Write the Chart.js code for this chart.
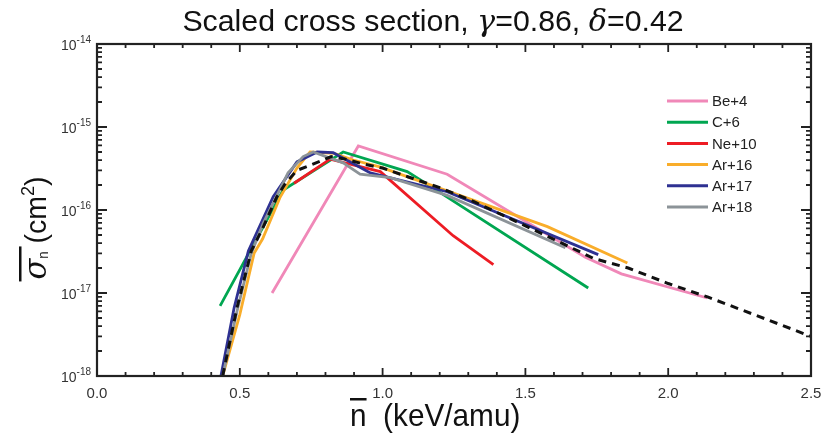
<!DOCTYPE html>
<html>
<head>
<meta charset="utf-8">
<script src="https://cdn.jsdelivr.net/npm/chart.js@4.4.0/dist/chart.umd.min.js"></script>
<style>
    html, body { margin: 0; padding: 0; background: #fff; }
    #wrap { width: 828px; height: 434px; }
</style>
</head>
<body>
<div id="wrap"><canvas id="chart" width="828" height="434"></canvas></div>
<script>
// values
var be4X = [0.613, 0.915, 1.226, 1.710, 1.836, 2.137];
var be4Y = [1.0e-17, 5.9e-16, 2.7e-16, 2.7e-17, 1.7e-17, 8.7e-18];

var c6X = [0.431, 0.652, 0.862, 1.086, 1.142, 1.720];
var c6Y = [7.0e-18, 1.74e-16, 5.0e-16, 2.9e-16, 2.2e-16, 1.15e-17];

var ne10X = [0.69, 0.816, 0.992, 1.247, 1.388];
var ne10Y = [2.1e-16, 4.1e-16, 2.9e-16, 4.9e-17, 2.2e-17];

var ar16X = [0.44, 0.50, 0.55, 0.58, 0.64, 0.70, 0.746, 0.83, 0.897, 0.99, 1.577, 1.857];
var ar16Y = [1.0e-18, 5.5e-18, 3.0e-17, 4.5e-17, 1.4e-16, 3.2e-16, 5.0e-16, 4.8e-16, 4.0e-16, 3.3e-16, 6.3e-17, 2.3e-17];

var ar17X = [0.434, 0.48, 0.53, 0.617, 0.70, 0.771, 0.827, 0.957, 1.226, 1.755];
var ar17Y = [1.0e-18, 6.6e-18, 3.2e-17, 1.45e-16, 3.8e-16, 5.0e-16, 4.9e-16, 2.8e-16, 1.66e-16, 2.9e-17];

var ar18X = [0.44, 0.49, 0.54, 0.582, 0.669, 0.722, 0.757, 0.862, 0.921, 1.027, 1.226, 1.64];
var ar18Y = [1.0e-18, 6.0e-18, 3.0e-17, 6.9e-17, 2.8e-16, 4.4e-16, 5.0e-16, 3.7e-16, 2.7e-16, 2.45e-16, 1.5e-16, 3.5e-17];

var fitX = [0.44, 0.49, 0.54, 0.58, 0.63, 0.66, 0.70, 0.75, 0.82, 0.87, 0.93, 1.0, 1.09, 1.20, 1.32, 1.47, 1.62, 1.74, 1.86, 2.0, 2.14, 2.30, 2.5];
var fitY = [1.0e-18, 6.6e-18, 3.2e-17, 6.0e-17, 1.45e-16, 2.1e-16, 3.0e-16, 3.5e-16, 4.4e-16, 4.1e-16, 3.6e-16, 3.2e-16, 2.5e-16, 1.86e-16, 1.26e-16, 7.2e-17, 4.1e-17, 2.6e-17, 2.0e-17, 1.3e-17, 8.9e-18, 5.5e-18, 3.0e-18];

var seriesNames = ['Be+4', 'C+6', 'Ne+10', 'Ar+16', 'Ar+17', 'Ar+18'];
var seriesColors = ['#f088b8', '#00a651', '#ed1c24', '#f9ad2a', '#2e3192', '#8c9398'];

var xTickValues = [0, 0.5, 1.0, 1.5, 2.0, 2.5];
var xTickLabels = ['0.0', '0.5', '1.0', '1.5', '2.0', '2.5'];
var yTickExps = [-14, -15, -16, -17, -18];

function pairs(xs, ys) {
    return xs.map(function (x, i) { return { x: x, y: ys[i] }; });
}

var allX = [be4X, c6X, ne10X, ar16X, ar17X, ar18X];
var allY = [be4Y, c6Y, ne10Y, ar16Y, ar17Y, ar18Y];

var datasets = seriesNames.map(function (name, i) {
    return {
        label: name,
        data: pairs(allX[i], allY[i]),
        borderColor: seriesColors[i],
        borderWidth: 2.8,
        order: 6 - i
    };
});
datasets.push({
    label: 'fit',
    data: pairs(fitX, fitY),
    borderColor: '#111',
    borderWidth: 3,
    borderDash: [8, 6],
    order: 0
});

var SANS = '"Liberation Sans", Arial, sans-serif';
var SERIF = '"DejaVu Serif", serif';

// draw text made of several runs (font, vertical shift), optionally squeezed by sx
function drawRuns(ctx, runs, x, y, align, sx) {
    sx = sx || 1;
    var total = 0;
    runs.forEach(function (r) { ctx.font = r.font; r.w = ctx.measureText(r.t).width; total += r.w; });
    var start = align === 'right' ? -total : (align === 'center' ? -total / 2 : 0);
    ctx.save();
    ctx.translate(x, y);
    ctx.scale(sx, 1);
    ctx.textAlign = 'left';
    var cx = start;
    runs.forEach(function (r) {
        ctx.font = r.font;
        ctx.fillText(r.t, cx, r.dy || 0);
        if (r.bar) {
            ctx.fillRect(cx + r.bar[0], r.bar[1], r.w + r.bar[2], r.bar[3]);
        }
        cx += r.w;
    });
    ctx.restore();
    return total * sx;
}

var decorPlugin = {
    id: 'decor',
    afterDraw: function (chart) {
        var ctx = chart.ctx;
        var area = chart.chartArea;
        var xs = chart.scales.x, ys = chart.scales.y;
        ctx.save();
        ctx.fillStyle = '#222';
        ctx.strokeStyle = '#222';

        // frame
        ctx.lineWidth = 2.2;
        ctx.strokeRect(area.left, area.top, area.right - area.left, area.bottom - area.top);

        // x ticks (top and bottom)
        ctx.lineWidth = 1.8;
        for (var k = 0; k <= 25; k++) {
            var v = k / 10;
            var px = xs.getPixelForValue(v);
            var len = (k % 5 === 0) ? 8 : 4;
            ctx.beginPath();
            ctx.moveTo(px, area.bottom); ctx.lineTo(px, area.bottom - len);
            ctx.moveTo(px, area.top); ctx.lineTo(px, area.top + len);
            ctx.stroke();
        }
        // y ticks (left and right)
        for (var e = -18; e <= -14; e++) {
            for (var m = 1; m <= 9; m++) {
                if (e === -14 && m > 1) break;
                var py = ys.getPixelForValue(m * Math.pow(10, e));
                var l2 = m === 1 ? 10 : 5;
                ctx.beginPath();
                ctx.moveTo(area.left, py); ctx.lineTo(area.left + l2, py);
                ctx.moveTo(area.right, py); ctx.lineTo(area.right - l2, py);
                ctx.stroke();
            }
        }

        // x tick labels
        ctx.font = '15px ' + SANS;
        ctx.textAlign = 'center';
        ctx.textBaseline = 'middle';
        ctx.fillStyle = '#333';
        xTickValues.forEach(function (v, i) {
            ctx.fillText(xTickLabels[i], xs.getPixelForValue(v), 394);
        });

        // y tick labels 10^e
        ctx.textBaseline = 'alphabetic';
        yTickExps.forEach(function (e) {
            var py = ys.getPixelForValue(Math.pow(10, e));
            drawRuns(ctx, [
                { t: '10', font: '14px ' + SANS, dy: 0 },
                { t: String(e), font: '10px ' + SANS, dy: -7 }
            ], 91, py + 6, 'right');
        });

        // title
        ctx.fillStyle = '#111';
        var tf = '30px ' + SANS;
        var gf = 'italic 30px ' + SERIF;
        drawRuns(ctx, [
            { t: 'Scaled cross section, ', font: tf },
            { t: 'γ', font: gf },
            { t: '=0.86, ', font: tf },
            { t: 'δ', font: gf },
            { t: '=0.42', font: tf }
        ], 433, 31, 'center', 1.01);

        // x axis title
        drawRuns(ctx, [
            { t: 'n', font: '32px ' + SANS, bar: [0, -28, 0, 2.5] },
            { t: '  (keV/amu)', font: '32px ' + SANS }
        ], 350, 426, 'left', 0.93);

        // y axis title, rotated
        ctx.save();
        ctx.translate(46, 228);
        ctx.rotate(-Math.PI / 2);
        drawRuns(ctx, [
            { t: 'σ', font: 'italic 32px ' + SERIF, bar: [-2, -27, 15, 2.5] },
            { t: 'n', font: '14px ' + SANS, dy: 2 },
            { t: ' (cm', font: '30px ' + SANS },
            { t: '2', font: '19px ' + SANS, dy: -12 },
            { t: ')', font: '30px ' + SANS }
        ], 0, 0, 'center', 0.95);
        ctx.restore();

        // legend
        ctx.font = '15px ' + SANS;
        ctx.textBaseline = 'middle';
        ctx.textAlign = 'left';
        seriesNames.forEach(function (name, i) {
            var ly = 101 + i * 21.2;
            ctx.strokeStyle = seriesColors[i];
            ctx.lineWidth = 3;
            ctx.beginPath();
            ctx.moveTo(667, ly); ctx.lineTo(708, ly);
            ctx.stroke();
            ctx.fillStyle = '#222';
            ctx.fillText(name, 712, ly + 1);
        });
        ctx.restore();
    }
};

var ctx = document.getElementById('chart').getContext('2d');
var chart = new Chart(ctx, {
    type: 'line',
    data: { datasets: datasets },
    options: {
        responsive: false,
        animation: false,
        layout: { padding: { left: 97, right: 17, top: 44, bottom: 58 } },
        scales: {
            x: { type: 'linear', min: 0, max: 2.5, display: false },
            y: { type: 'logarithmic', min: 1e-18, max: 1e-14, display: false }
        },
        elements: {
            point: { radius: 0 },
            line: { tension: 0, fill: false }
        },
        plugins: {
            legend: { display: false },
            tooltip: { enabled: false }
        }
    },
    plugins: [decorPlugin]
});
</script>
</body>
</html>
